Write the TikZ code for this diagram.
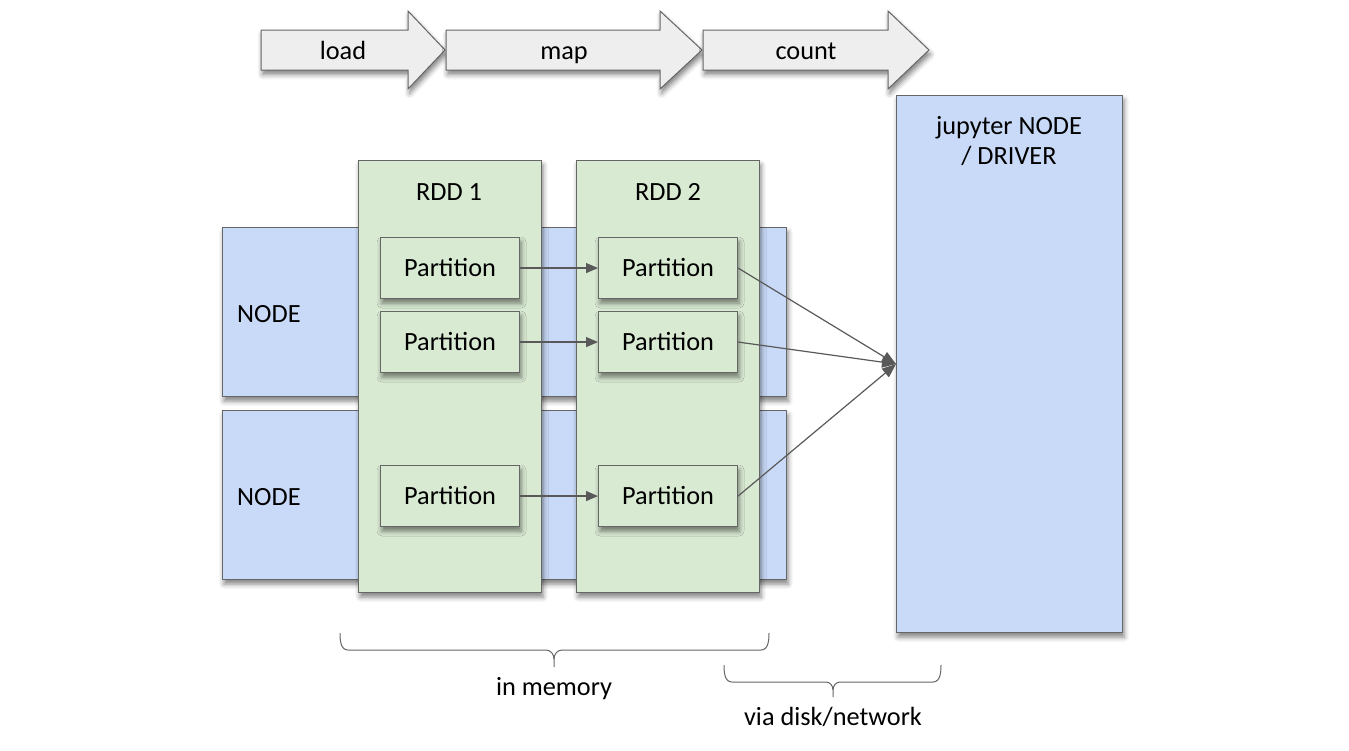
\documentclass[tikz,border=0pt]{standalone}
\usepackage{fontspec}
\setmainfont{Carlito}
\usetikzlibrary{arrows.meta,shadows.blur}
\definecolor{nodeblue}{HTML}{C9DAF8}
\definecolor{rddgreen}{HTML}{D9EAD3}
\definecolor{edge}{HTML}{666666}
\definecolor{arrowgray}{HTML}{595959}
\definecolor{stepfill}{HTML}{EEEEEE}
\begin{document}
\begin{tikzpicture}[x=1pt,y=-1pt,
  every node/.style={font=\fontsize{26.3}{30}\selectfont, text=black},
  lbl/.style={text height=0.9em, text depth=0.02em, inner sep=0pt, yshift=-4.5pt},
  box/.style={draw=edge, line width=1.1pt, inner sep=0pt, anchor=north west,
    blur shadow={shadow xshift=1.5pt, shadow yshift=-4.5pt, shadow blur radius=5pt, shadow opacity=50}},
  nodebox/.style={box, fill=nodeblue, minimum width=564pt, minimum height=169pt},
  rddbox/.style={box, fill=rddgreen, minimum width=183pt, minimum height=432pt},
  partbox/.style={box, fill=rddgreen, minimum width=139pt, minimum height=61pt},
  steparrow/.style={draw=edge, line width=1pt, fill=stepfill,
    blur shadow={shadow xshift=1.5pt, shadow yshift=-4.5pt, shadow blur radius=5pt, shadow opacity=50}},
  flow/.style={draw=arrowgray, line width=1.2pt, -{Triangle[length=12pt,width=10pt]}},
  bigflow/.style={draw=arrowgray, line width=1.2pt, -{Triangle[length=14pt,width=11pt]}},
  brace/.style={draw=edge, line width=1pt}
]
\useasboundingbox (0,0) rectangle (1349,750);

% top step arrows
\path[steparrow] (261,30) -- (408,30) -- (408,11) -- (445,50) -- (408,89) -- (408,70) -- (261,70) -- cycle;
\path[steparrow] (446,30) -- (660,30) -- (660,11) -- (702,50) -- (660,89) -- (660,70) -- (446,70) -- cycle;
\path[steparrow] (703,30) -- (888,30) -- (888,11) -- (929,50) -- (888,89) -- (888,70) -- (703,70) -- cycle;
\node[lbl] (load) at (343,51) {load};
\node[lbl] (map) at (564,51) {map};
\node[lbl] (count) at (806,51) {count};

% driver
\node[box, fill=nodeblue, minimum width=226pt, minimum height=537pt] (driver) at (896,95) {};
\node[align=center, anchor=north, inner sep=0pt] (drvlabel) at (1009,116) {jupyter NODE\\/ DRIVER};

% worker nodes
\node[nodebox] (node1) at (222,227) {};
\node[nodebox] (node2) at (222,410) {};
\node[lbl, anchor=west] (n1label) at (237,314) {NODE};
\node[lbl, anchor=west] (n2label) at (237,497) {NODE};

% RDDs
\node[rddbox] (rdd1) at (358,160) {};
\node[rddbox] (rdd2) at (576,160) {};
\node[lbl] (rdd1label) at (449,192) {RDD 1};
\node[lbl] (rdd2label) at (668,192) {RDD 2};

% partitions
\node[partbox] (p11) at (380,237) {};
\node[partbox] (p12) at (380,311) {};
\node[partbox] (p13) at (380,465) {};
\node[partbox] (p21) at (598,237) {};
\node[partbox] (p22) at (598,311) {};
\node[partbox] (p23) at (598,465) {};
\foreach \p in {p11,p12,p13,p21,p22,p23}
  \node[lbl] at (\p.center) {Partition};

% connectors
\draw[flow] (p11.east) -- (p21.west);
\draw[flow] (p12.east) -- (p22.west);
\draw[flow] (p13.east) -- (p23.west);
\draw[bigflow] (p21.east) -- (driver.west);
\draw[bigflow] (p22.east) -- (driver.west);
\draw[bigflow] (p23.east) -- (driver.west);

% braces
\draw[brace] (340,633) to[out=-90,in=180] (348,650) -- (546,650) to[out=0,in=90] (554,659) -- (554,667);
\draw[brace] (554,659) to[out=90,in=180] (562,650) -- (761,650) to[out=0,in=-90] (769,633);
\draw[brace] (724,665) to[out=-90,in=180] (732,682) -- (826,682) to[out=0,in=90] (833,690) -- (833,697);
\draw[brace] (833,690) to[out=90,in=180] (840,682) -- (933,682) to[out=0,in=-90] (941,665);
\node[lbl] (mem) at (554,687) {in memory};
\node[lbl] (disk) at (833,717) {via disk/network};
\end{tikzpicture}
\end{document}
